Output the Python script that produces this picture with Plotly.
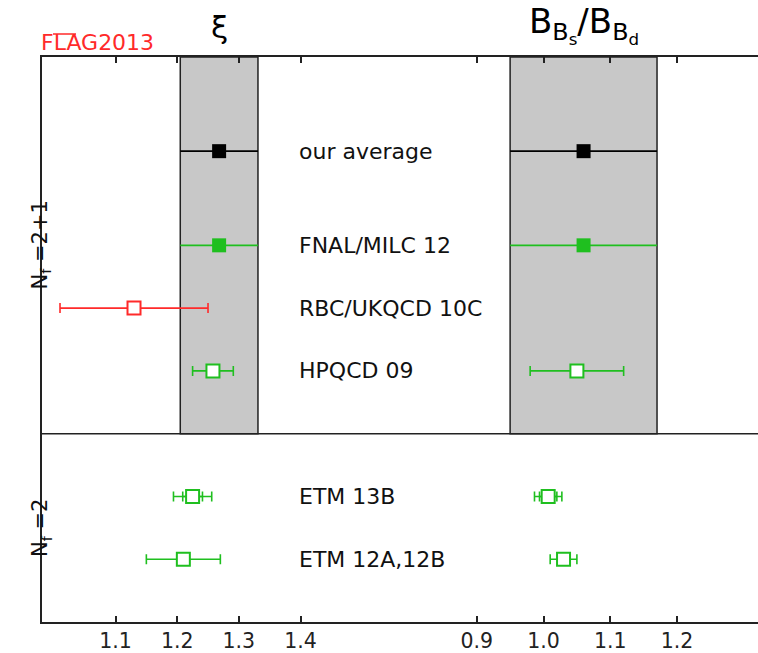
import plotly.graph_objects as go

# Collaboration / result labels, top to bottom
labels = ["our average", "FNAL/MILC 12", "RBC/UKQCD 10C", "HPQCD 09", "ETM 13B", "ETM 12A,12B"]
row_y = [7.5, 6, 5, 4, 2, 1]

# xi = f_Bs sqrt(B_Bs) / f_B sqrt(B_B)
xi_val = [1.268, 1.268, 1.13, 1.258, 1.225, 1.21]
xi_err = [0.063, 0.063, 0.12, 0.033, 0.031, 0.06]
xi_stat = [None, None, None, None, 0.016, None]

# B_Bs / B_Bd
bb_val = [1.06, 1.06, None, 1.05, 1.007, 1.03]
bb_err = [0.11, 0.11, None, 0.07, 0.0205, 0.02]
bb_stat = [None, None, None, None, 0.013, None]

# Averages shown as bands over the N_f = 2+1 block
xi_avg, xi_avg_err = 1.268, 0.063
bb_avg, bb_avg_err = 1.06, 0.11

xi_ticks = [1.1, 1.2, 1.3, 1.4]
bb_ticks = [0.9, 1.0, 1.1, 1.2]

GREEN = "#1fbf1f"
RED = "#ff2a2a"
BLACK = "#000000"

# marker style per row: (color, filled, capwidth)
styles = [
    (BLACK, True, 0),
    (GREEN, True, 0),
    (RED, False, 5),
    (GREEN, False, 5),
    (GREEN, False, 5),
    (GREEN, False, 5),
]

fig = go.Figure()


def add_point(xaxis, x, err, stat, y, style):
    color, filled, cap = style
    if x is None:
        return
    if stat is not None:
        fig.add_trace(go.Scatter(
            x=[x], y=[y], xaxis=xaxis, yaxis="y", mode="markers",
            marker=dict(size=1, color="rgba(0,0,0,0)"),
            error_x=dict(type="data", array=[stat], color=color, thickness=1.6, width=cap),
            showlegend=False, hoverinfo="skip"))
    fig.add_trace(go.Scatter(
        x=[x], y=[y], xaxis=xaxis, yaxis="y", mode="markers",
        marker=dict(symbol="square", size=14 if filled else 13,
                    color=color if filled else "white",
                    line=dict(color=color, width=0 if filled else 2)),
        error_x=dict(type="data", array=[err], color=color, thickness=1.6, width=cap),
        showlegend=False))


# grey bands for the averages
for xref, c, e in [("x", xi_avg, xi_avg_err), ("x2", bb_avg, bb_avg_err)]:
    fig.add_shape(type="rect", xref=xref, yref="y", x0=c - e, x1=c + e, y0=3, y1=9,
                  fillcolor="#c8c8c8", line=dict(color="#222222", width=1.5), layer="below")

for i in range(len(labels)):
    add_point("x", xi_val[i], xi_err[i], xi_stat[i], row_y[i], styles[i])
    add_point("x2", bb_val[i], bb_err[i], bb_stat[i], row_y[i], styles[i])
    fig.add_annotation(x=1.395, y=row_y[i], xref="x", yref="y", text=labels[i],
                       showarrow=False, xanchor="left", yanchor="middle",
                       font=dict(size=22, color="#111111"))

# separator between the N_f = 2+1 and N_f = 2 blocks
fig.add_shape(type="line", xref="paper", yref="y", x0=0, x1=1, y0=3, y1=3,
              line=dict(color="#222222", width=1.5))

# panel titles
fig.add_annotation(x=1.268, y=1.0, xref="x", yref="paper", yshift=10, text="ξ",
                   showarrow=False, yanchor="bottom", font=dict(size=31, color="black"))
fig.add_annotation(x=1.06, y=1.0, xref="x2", yref="paper", yshift=6,
                   text="B<sub>B<sub>s</sub></sub>/B<sub>B<sub>d</sub></sub>",
                   showarrow=False, yanchor="bottom", font=dict(size=34, color="black"))

# FLAG tag with its bar over "LA"
fig.add_annotation(x=-0.004, y=1.0, xref="paper", yref="paper", yshift=0, text="FLAG2013",
                   showarrow=False, xanchor="left", yanchor="bottom",
                   font=dict(size=22, color=RED))
fig.add_shape(type="line", xref="paper", yref="paper",
              x0=(53 - 42) / 716, x1=(76 - 42) / 716,
              y0=1 + 23 / 565, y1=1 + 23 / 565,
              line=dict(color=RED, width=1.5))

# N_f labels
fig.add_annotation(x=-0.022, y=6, xref="paper", yref="y", text="N<sub>f</sub> =2+1",
                   showarrow=False, textangle=-90, font=dict(size=21, color="#111111"))
fig.add_annotation(x=-0.022, y=1.5, xref="paper", yref="y", text="N<sub>f</sub> =2",
                   showarrow=False, textangle=-90, font=dict(size=21, color="#111111"))

axis_common = dict(showline=True, linecolor="#222222", linewidth=1.5, mirror="ticks",
                   ticks="inside", ticklen=6, tickwidth=1.5, tickcolor="#222222",
                   showgrid=False, zeroline=False, tickfont=dict(size=20.5, color="#222222"),
                   tickformat=".1f", automargin=False, ticklabelstandoff=0)

fig.update_layout(
    width=758, height=653,
    margin=dict(l=42, r=0, t=57, b=31, autoexpand=False),
    paper_bgcolor="white", plot_bgcolor="white",
    font=dict(family="DejaVu Sans"),
    xaxis=dict(domain=[0, 0.5], range=[0.9808, 1.5613], tickvals=xi_ticks, anchor="y",
               **axis_common),
    xaxis2=dict(domain=[0.5, 1], range=[0.7851, 1.3212], tickvals=bb_ticks, anchor="y",
                **axis_common),
    yaxis=dict(range=[0, 9], showticklabels=False, showgrid=False, zeroline=False,
               showline=True, linecolor="#222222", linewidth=1.5, ticks="",
               automargin=False),
)

fig.write_html("out.html")
